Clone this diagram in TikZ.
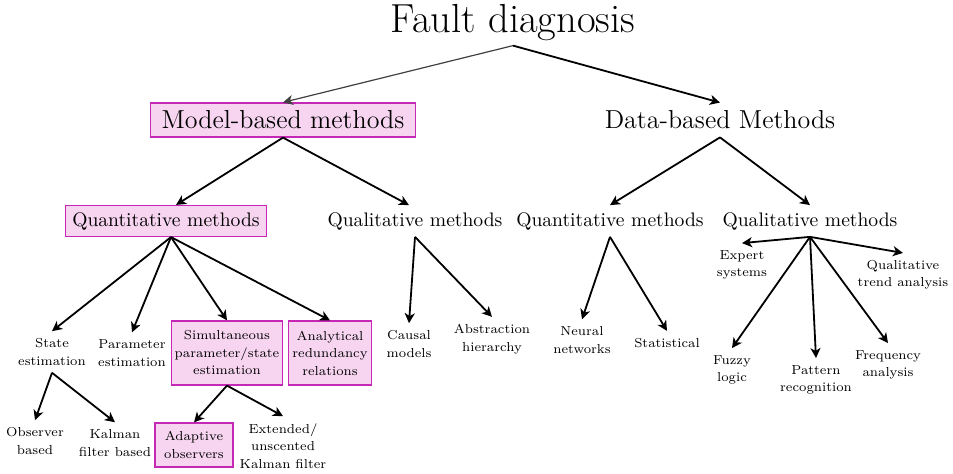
\documentclass[tikz,border=0pt]{standalone}
\usepackage{fontspec}
\usetikzlibrary{arrows.meta}

\definecolor{boxfill}{RGB}{247,213,240}
\definecolor{boxline}{RGB}{196,40,180}

\begin{document}
\begin{tikzpicture}[x=0.5pt,y=-0.5pt,
    link/.style={-{Stealth[length=5pt,width=5pt,inset=1.4pt]},line width=0.9pt},
    hl/.style={draw=boxline,fill=boxfill,line width=0.6pt},
    top/.style={font=\fontsize{20.3}{24}\selectfont,inner sep=2pt},
    family/.style={font=\fontsize{13}{15}\selectfont,inner xsep=5.5pt,minimum height=17pt},
    group/.style={font=\fontsize{9.8}{12}\selectfont,inner xsep=3.5pt,minimum height=13pt},
    leaf/.style={font=\fontsize{6.5}{8.75}\selectfont,align=center,inner sep=3.5pt},
    leafbox/.style={leaf,hl,inner xsep=1.5pt}]

    % Frame of the picture
    \useasboundingbox (0,0) rectangle (953,474);

    % Root and the two families of methods
    \node[top] (fd) at (513,23) {Fault diagnosis};
    \node[family,hl] (mbm) at (283,120) {Model-based methods};
    \node[family] (dbm) at (720,120) {Data-based Methods};
    \draw[-{Stealth[length=5pt,width=5pt,inset=1.4pt]},line width=0.6pt,black!75] (fd.south) -- (mbm.north);
    \draw[link] (fd.south) -- (dbm.north);

    % Second level
    \node[group,hl] (mqn) at (166,221) {Quantitative methods};
    \node[group] (mql) at (415,221) {Qualitative methods};
    \node[group] (dqn) at (610,221) {Quantitative methods};
    \node[group] (dql) at (810,221) {Qualitative methods};
    \draw[link] (mbm.south) -- ([xshift=5pt]mqn.north);
    \draw[link] (mbm.south) -- ([xshift=-3pt]mql.north);
    \draw[link] (dbm.south) -- (dqn.north);
    \draw[link] (dbm.south) -- (dql.north);

    % Model-based, quantitative
    \node[leaf] (se) at (52,352) {State\\estimation};
    \node[leaf] (pe) at (132,353) {Parameter\\estimation};
    \node[leafbox,minimum width=55pt,minimum height=32pt] (sim) at (227,353) {Simultaneous\\parameter/state\\estimation};
    \node[leafbox,minimum width=41.5pt,minimum height=32pt] (arr) at (330,353) {Analytical\\redundancy\\relations};
    \draw[link] ([xshift=2.5pt]mqn.south) -- (se.north);
    \draw[link] ([xshift=2.5pt]mqn.south) -- (pe.north);
    \draw[link] ([xshift=2.5pt]mqn.south) -- (sim.north);
    \draw[link] ([xshift=2.5pt]mqn.south) -- (arr.north);

    % Below state estimation
    \node[leaf] (ob) at (35,441) {Observer\\based};
    \node[leaf] (kf) at (115,443) {Kalman\\filter based};
    \draw[link] (se.south) -- (ob.north);
    \draw[link] (se.south) -- (kf.north);

    % Below simultaneous estimation
    \node[leafbox,minimum width=39pt,minimum height=22pt] (ao) at (194,445) {Adaptive\\observers};
    \node[leaf] (ekf) at (283,446) {Extended/\\unscented\\Kalman filter};
    \draw[link] (sim.south) -- (ao.north);
    \draw[link] (sim.south) -- (ekf.north);

    % Model-based, qualitative
    \node[leaf] (cm) at (409,344) {Causal\\models};
    \node[leaf] (ah) at (492,339) {Abstraction\\hierarchy};
    \draw[link] (mql.south) -- (cm.north);
    \draw[link] (mql.south) -- (ah.north);

    % Data-based, quantitative
    \node[leaf] (nn) at (582,340) {Neural\\networks};
    \node[leaf] (st) at (667,343) {Statistical};
    \draw[link] (dqn.south) -- (nn.north);
    \draw[link] (dqn.south) -- (st.north);

    % Data-based, qualitative
    \node[leaf] (es) at (742,265) {Expert\\systems};
    \node[leaf] (qta) at (903,275) {Qualitative\\trend analysis};
    \node[leaf] (fl) at (732,370) {Fuzzy\\logic};
    \node[leaf] (pr) at (816,380) {Pattern\\recognition};
    \node[leaf] (fa) at (888,365) {Frequency\\analysis};
    \draw[link] (dql.south) -- (es.north);
    \draw[link] (dql.south) -- (qta.north);
    \draw[link] (dql.south) -- (fl.north);
    \draw[link] (dql.south) -- (pr.north);
    \draw[link] (dql.south) -- (fa.north);
\end{tikzpicture}
\end{document}
